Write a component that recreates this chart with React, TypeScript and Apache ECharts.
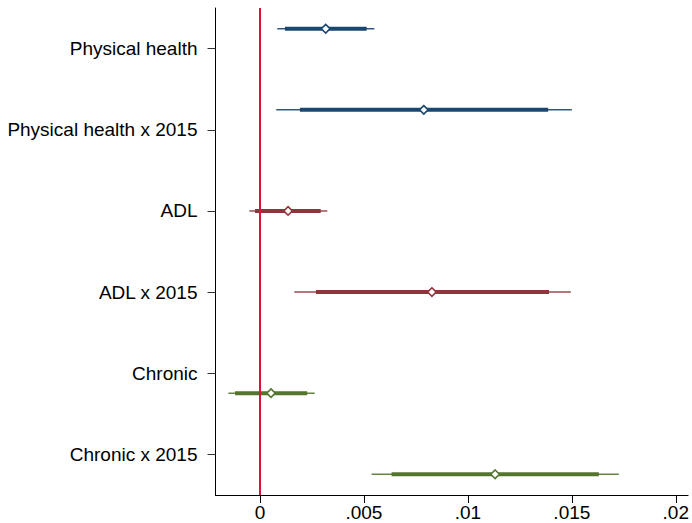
import React, { useEffect, useRef } from "react";
import * as echarts from "echarts";

const categories = [
  "Physical health",
  "Physical health x 2015",
  "ADL",
  "ADL x 2015",
  "Chronic",
  "Chronic x 2015",
];
const estimates = [0.00316, 0.00788, 0.00135, 0.00827, 0.00053, 0.01131];
const outerLow = [0.00083, 0.00078, -0.00051, 0.00165, -0.00152, 0.00537];
const outerHigh = [0.0055, 0.015, 0.00324, 0.01495, 0.00263, 0.01726];
const innerLow = [0.0012, 0.00192, -0.00024, 0.00269, -0.0012, 0.00633];
const innerHigh = [0.00513, 0.01386, 0.00292, 0.0139, 0.00227, 0.0163];
const groups = [
  { rows: [0, 1], color: "#1a476f", offset: -0.245 },
  { rows: [2, 3], color: "#90353b", offset: 0 },
  { rows: [4, 5], color: "#55752f", offset: 0.245 },
];
const xTicks = [0, 0.005, 0.01, 0.015, 0.02];

const FONT = "'Liberation Sans', Arial, Helvetica, sans-serif";

export default function App() {
  const ref = useRef<HTMLDivElement>(null);
  useEffect(() => {
    if (!ref.current) return;
    const chart = echarts.init(ref.current, undefined, { renderer: "svg" });

    const customSeries = groups.map((g) => ({
      type: "custom",
      coordinateSystem: "cartesian2d",
      encode: { x: [0, 1, 2, 3, 4], y: 5 },
      data: g.rows.map((i) => [outerLow[i], outerHigh[i], innerLow[i], innerHigh[i], estimates[i], i]),
      renderItem: (params: any, api: any) => {
        const cat = api.value(5);
        const band = api.size([0, 1])[1];
        const dy = g.offset * band;
        const pLo = api.coord([api.value(0), cat]);
        const pHi = api.coord([api.value(1), cat]);
        const iLo = api.coord([api.value(2), cat]);
        const iHi = api.coord([api.value(3), cat]);
        const pt = api.coord([api.value(4), cat]);
        const y = pt[1] + dy;
        const r = 4.3;
        return {
          type: "group",
          children: [
            {
              type: "line",
              shape: { x1: pLo[0], y1: y, x2: pHi[0], y2: y },
              style: { stroke: g.color, lineWidth: 1.5, opacity: 0.9 },
            },
            {
              type: "line",
              shape: { x1: iLo[0], y1: y, x2: iHi[0], y2: y },
              style: { stroke: g.color, lineWidth: 4 },
            },
            {
              type: "polygon",
              shape: {
                points: [
                  [pt[0], y - r],
                  [pt[0] + r, y],
                  [pt[0], y + r],
                  [pt[0] - r, y],
                ],
              },
              style: { fill: "#ffffff", stroke: g.color, lineWidth: 1.6 },
            },
          ],
        };
      },
    }));

    chart.setOption({
      animation: false,
      backgroundColor: "#ffffff",
      grid: { left: 215.5, right: 3.7, top: 8, bottom: 28, containLabel: false },
      xAxis: {
        type: "value",
        min: -0.00214,
        max: 0.02059,
        splitLine: { show: false },
        axisLine: { show: true, onZero: false, lineStyle: { color: "#000", width: 1 } },
        axisTick: { show: true, length: 8, lineStyle: { color: "#000" }, customValues: xTicks },
        axisLabel: {
          customValues: xTicks,
          color: "#000",
          fontSize: 19,
          fontFamily: FONT,
          margin: 8,
          formatter: (v: number) => (v === 0 ? "0" : String(+v.toFixed(4)).replace(/^0/, "")),
        },
      },
      yAxis: {
        type: "category",
        inverse: true,
        data: categories,
        boundaryGap: true,
        axisLine: { show: true, onZero: false, lineStyle: { color: "#000", width: 1 } },
        axisTick: { show: true, alignWithLabel: true, length: 8, lineStyle: { color: "#333" } },
        axisLabel: { color: "#000", fontSize: 19, fontFamily: FONT, margin: 18 },
        splitLine: { show: false },
      },
      series: [
        ...customSeries,
        {
          type: "line",
          data: [],
          z: 10,
          markLine: {
            silent: true,
            symbol: ["none", "none"],
            label: { show: false },
            lineStyle: { color: "#e0103c", width: 2, type: "solid" },
            data: [{ xAxis: 0 }],
          },
        },
      ],
    });
    return () => chart.dispose();
  }, []);
  return <div ref={ref} style={{ position: "fixed", left: 0, top: 0, width: 692, height: 523 }} />;
}
